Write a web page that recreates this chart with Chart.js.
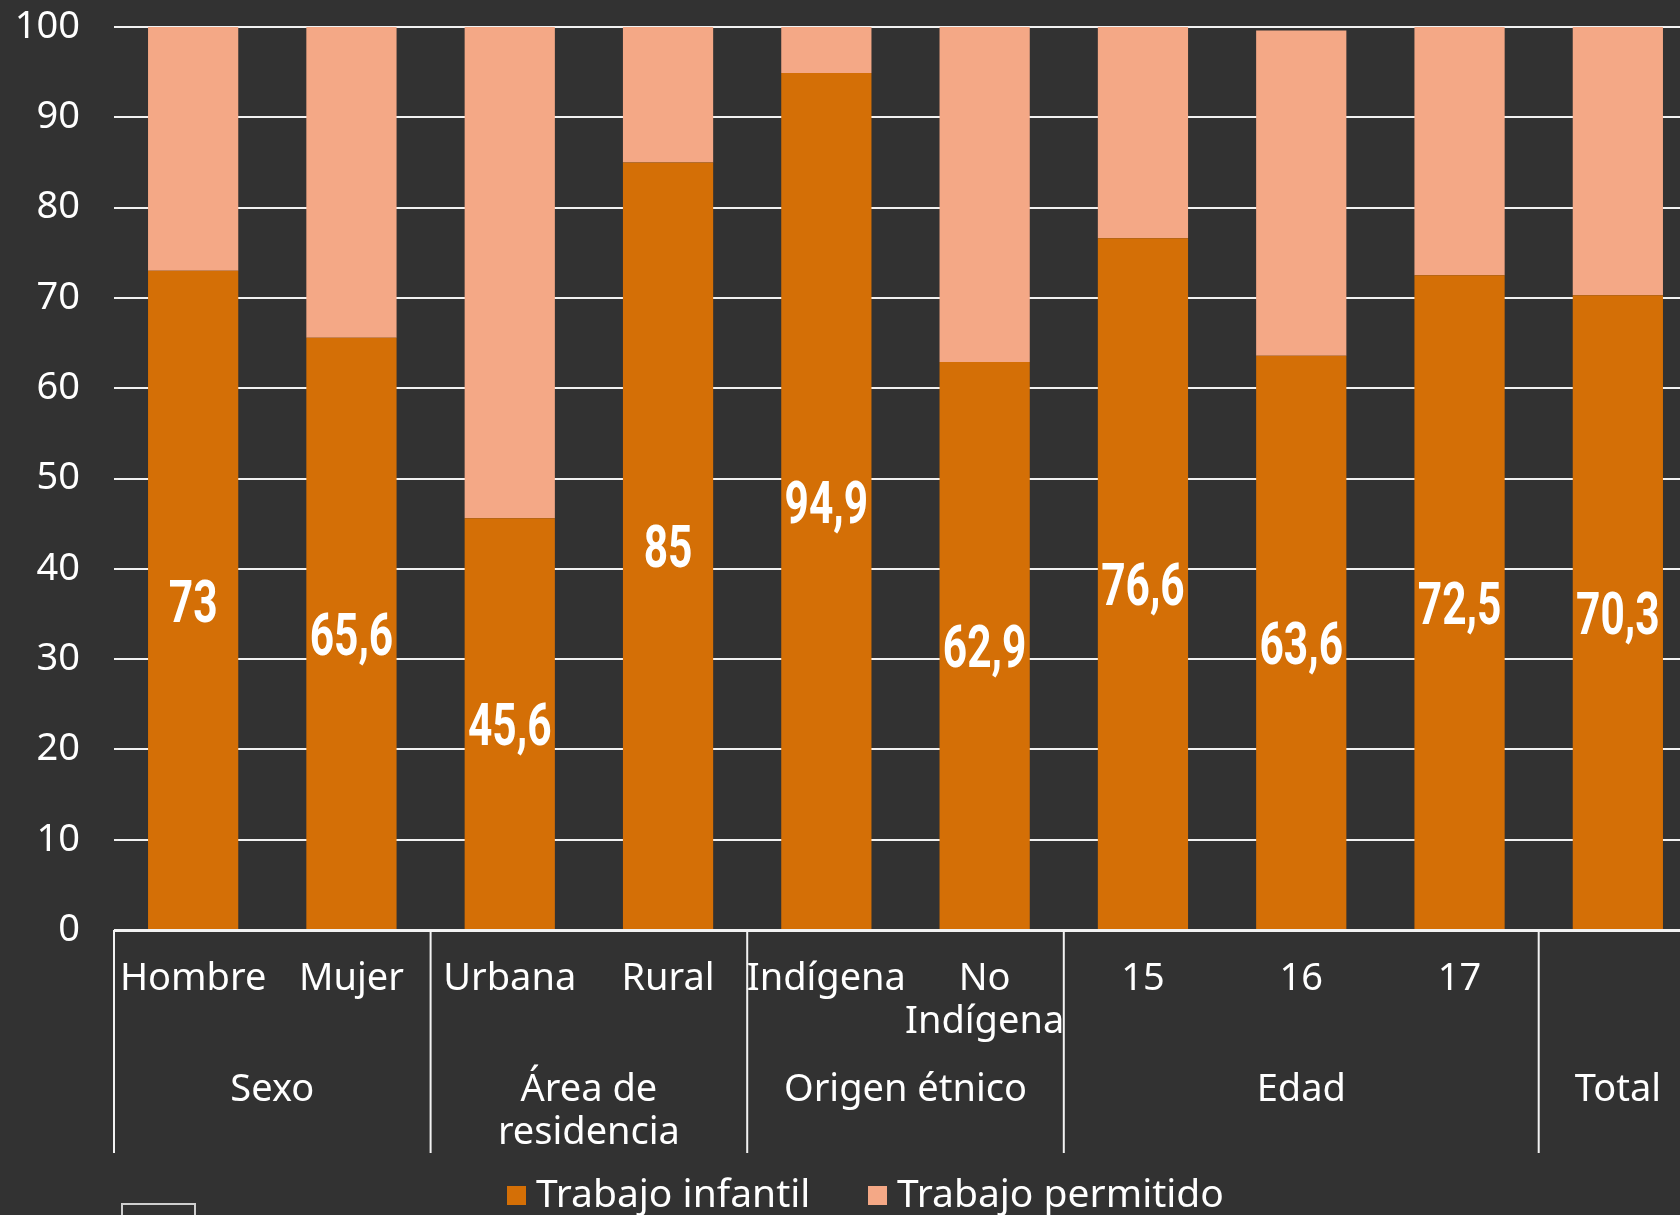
<!DOCTYPE html>
<html lang="es">
<head>
<meta charset="UTF-8">
<title>Trabajo infantil y trabajo permitido</title>
<script src="https://cdn.jsdelivr.net/npm/chart.js"></script>
<style>
    html, body { margin: 0; padding: 0; background: #323232; overflow: hidden; }
    #wrap { width: 1697px; height: 1215px; }
</style>
</head>
<body>
<div id="wrap"><canvas id="chartCanvas" width="1697" height="1215"></canvas></div>
<script>
    // data
    const categories = [['Hombre'], ['Mujer'], ['Urbana'], ['Rural'], ['Indígena'], ['No', 'Indígena'], ['15'], ['16'], ['17'], ['']];
    const groupLabels = [['Sexo'], ['Área de', 'residencia'], ['Origen étnico'], ['Edad'], ['Total']];
    const groupSizes = [2, 2, 2, 3, 1];
    const trabajoInfantil = [73, 65.6, 45.6, 85, 94.9, 62.9, 76.6, 63.6, 72.5, 70.3];
    const trabajoPermitido = [27, 34.4, 54.4, 15, 5.1, 37.1, 23.4, 36.0, 27.5, 29.7];
    const seriesNames = ['Trabajo infantil', 'Trabajo permitido'];

    const orange = '#D46F06';
    const peach = '#F4A886';
    const textFont = '38px "Noto Sans"';

    const extras = {
        id: 'extras',
        afterDatasetsDraw(chart) {
            const ctx = chart.ctx;
            const meta = chart.getDatasetMeta(0);
            ctx.save();
            ctx.fillStyle = '#ffffff';
            ctx.font = 'bold 59px Roboto';
            ctx.textAlign = 'center';
            ctx.textBaseline = 'middle';
            meta.data.forEach((bar, i) => {
                const txt = String(trabajoInfantil[i]).replace('.', ',');
                ctx.save();
                ctx.translate(bar.x, (bar.y + bar.base) / 2 + 7);
                ctx.scale(0.72, 1);
                ctx.fillText(txt, 0, 0);
                ctx.restore();
            });
            ctx.restore();
        },
        afterDraw(chart) {
            const ctx = chart.ctx;
            const x = chart.scales.x;
            const area = chart.chartArea;
            ctx.save();
            ctx.strokeStyle = '#f2f2f2';
            ctx.lineWidth = 2;

            // axis line
            ctx.beginPath();
            ctx.moveTo(area.left, area.bottom + 1);
            ctx.lineTo(area.right, area.bottom + 1);
            ctx.stroke();

            // group separators
            const step = (area.right - area.left) / categories.length;
            let idx = 0;
            const bounds = [area.left];
            groupSizes.forEach(n => { idx += n; bounds.push(area.left + idx * step); });
            bounds.forEach(b => {
                if (b >= area.right - 1) return;
                ctx.beginPath();
                ctx.moveTo(b, area.bottom);
                ctx.lineTo(b, 1153);
                ctx.stroke();
            });

            ctx.fillStyle = '#ffffff';
            ctx.font = textFont;
            ctx.textAlign = 'center';
            ctx.textBaseline = 'middle';

            // category labels
            categories.forEach((lines, i) => {
                const cx = x.getPixelForValue(i);
                lines.forEach((ln, j) => ctx.fillText(ln, cx, 979 + j * 43));
            });

            // group labels
            groupLabels.forEach((lines, g) => {
                const cx = (bounds[g] + bounds[g + 1]) / 2;
                lines.forEach((ln, j) => ctx.fillText(ln, cx, 1090 + j * 43));
            });

            // legend
            ctx.textAlign = 'left';
            ctx.font = '39px "Noto Sans"';
            const legendX = [507, 868];
            [orange, peach].forEach((c, k) => {
                ctx.fillStyle = c;
                ctx.fillRect(legendX[k], 1186, 19, 19);
                ctx.fillStyle = '#ffffff';
                ctx.fillText(seriesNames[k], legendX[k] + 29, 1196);
            });

            // small box at bottom left
            ctx.strokeStyle = '#cfcfcf';
            ctx.strokeRect(122, 1204, 73, 20);
            ctx.restore();
        }
    };

    const chart = new Chart(document.getElementById('chartCanvas'), {
        type: 'bar',
        data: {
            labels: categories.map(c => c.join(' ')),
            datasets: [
                { label: seriesNames[0], data: trabajoInfantil, backgroundColor: orange },
                { label: seriesNames[1], data: trabajoPermitido, backgroundColor: peach }
            ]
        },
        options: {
            responsive: false,
            animation: false,
            devicePixelRatio: 1,
            layout: { padding: { top: 27, left: 0, right: 0, bottom: 0 } },
            datasets: { bar: { barPercentage: 0.57, categoryPercentage: 1 } },
            plugins: {
                legend: { display: false },
                tooltip: { enabled: false }
            },
            scales: {
                x: {
                    stacked: true,
                    offset: true,
                    grid: { display: false },
                    border: { display: false },
                    ticks: { display: false },
                    afterFit: s => { s.height = 285; s.paddingLeft = 0; s.paddingRight = 0; }
                },
                y: {
                    stacked: true,
                    min: 0,
                    max: 100,
                    ticks: {
                        stepSize: 10,
                        color: '#ffffff',
                        font: { family: 'Noto Sans', size: 38 },
                        padding: 34
                    },
                    grid: { color: '#f2f2f2', lineWidth: 2, drawTicks: false },
                    border: { display: false },
                    afterFit: s => { s.width = 114; s.paddingTop = 0; s.paddingBottom = 0; }
                }
            }
        },
        plugins: [extras]
    });
</script>
</body>
</html>
